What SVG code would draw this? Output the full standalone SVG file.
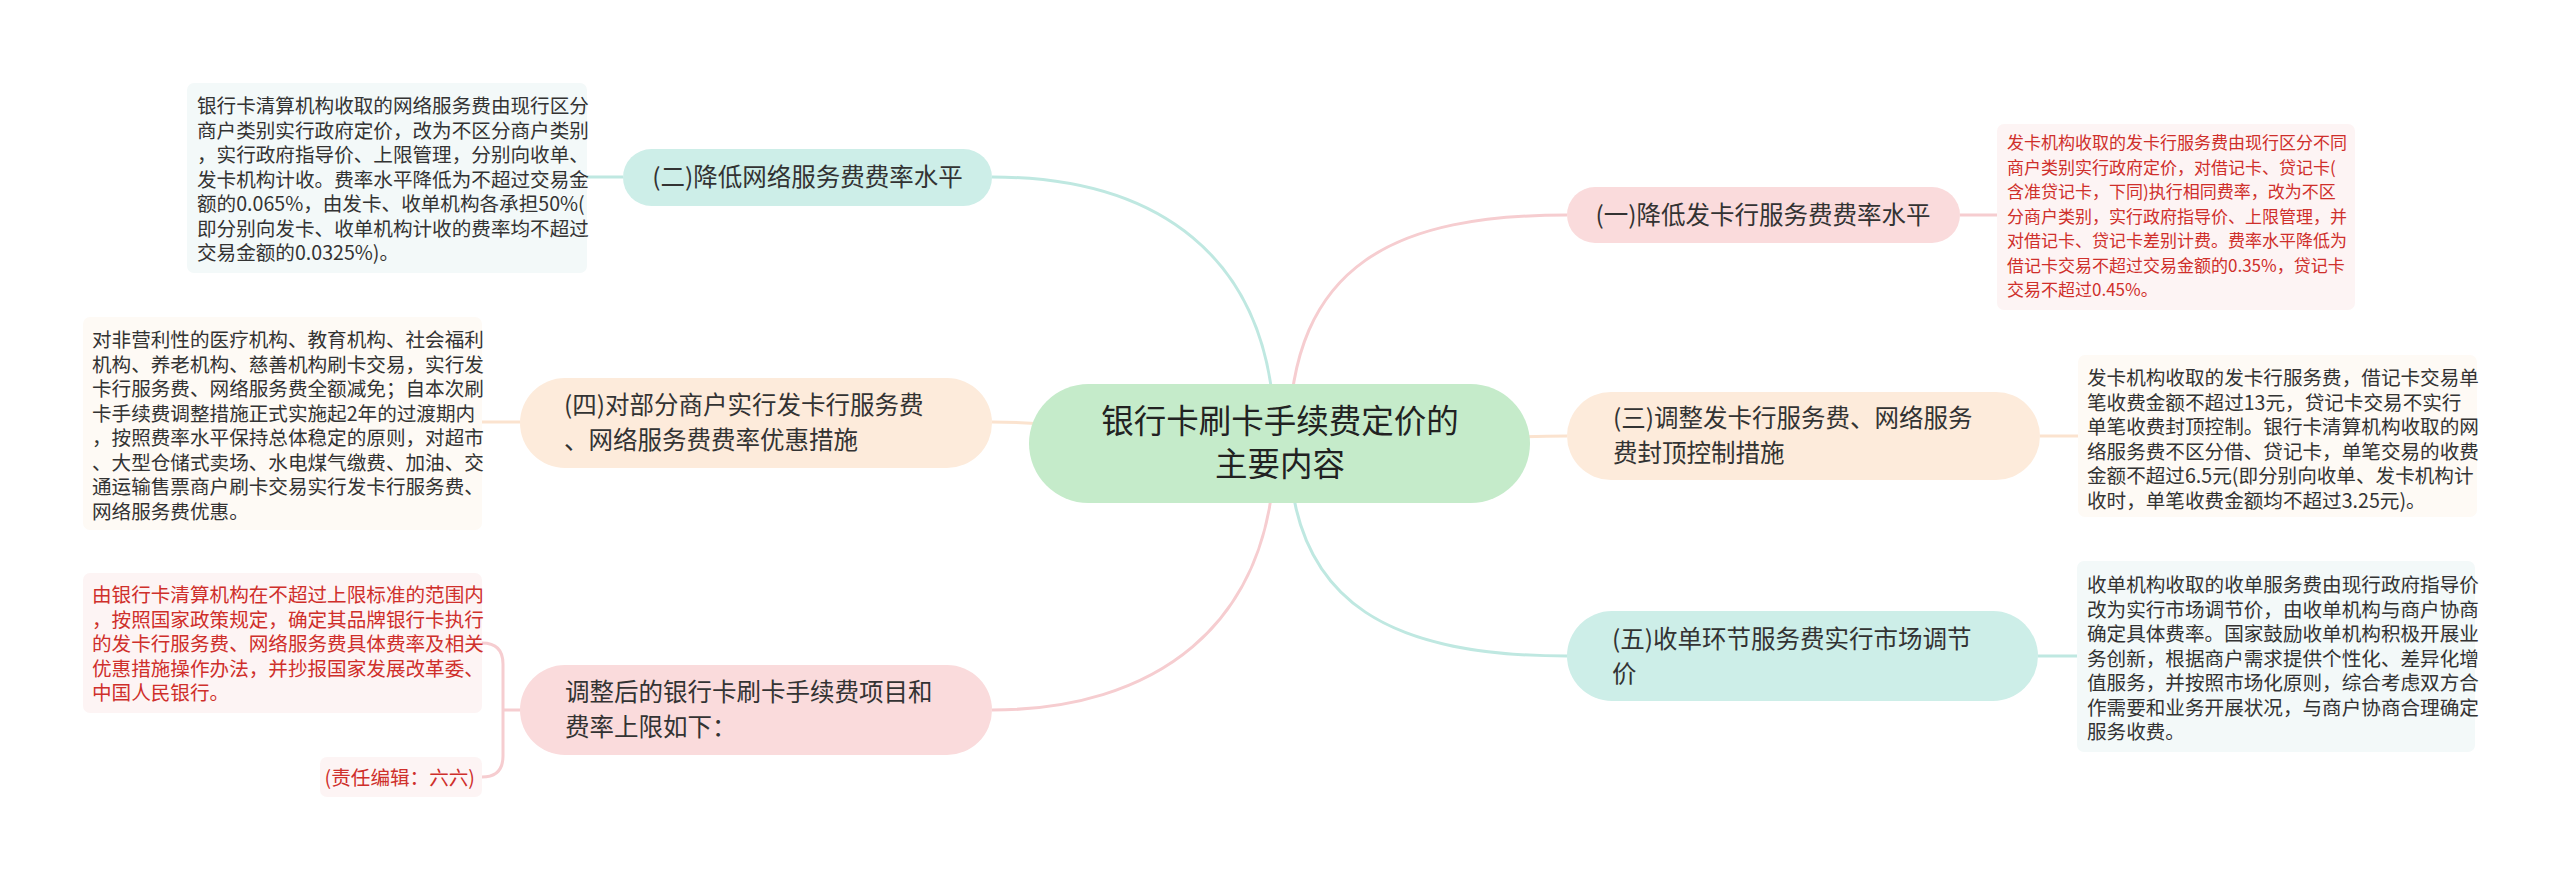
<svg xmlns="http://www.w3.org/2000/svg" width="2560" height="881" viewBox="0 0 2560 881">
<style>
text{font-family:"Noto Sans CJK SC","Noto Sans",sans-serif;}
.node{font-size:24.5px;fill:#333;}
.root{font-size:32.5px;fill:#222;}
.det{font-size:19.6px;fill:#333;}
.det-s{font-size:17px;}
.red{fill:#cf2f2b;}
.c-cyan{stroke:#bfe8e1;}
.c-pink{stroke:#f6cdd0;}
.c-peach{stroke:#fbe3cf;}
#connectors path{fill:none;stroke-width:3;}
</style>
<rect width="2560" height="881" fill="#ffffff"/>
<g id="connectors">
<path class="c-cyan" d="M1275,443 C1275,250 1150,177 992,177"/>
<path class="c-pink" d="M1289,443 C1289,260 1400,215 1567,215"/>
<path class="c-peach" d="M1280,443 C1120,443 1100,422 992,422"/>
<path class="c-peach" d="M1280,443 C1450,443 1480,436 1567,436"/>
<path class="c-pink" d="M1275,443 C1275,630 1150,710 992,710"/>
<path class="c-cyan" d="M1289,443 C1289,610 1400,656 1567,656"/>
<path class="c-cyan" d="M587,177 L623,177"/>
<path class="c-pink" d="M1960,215 L1997,215"/>
<path class="c-peach" d="M482,422 L520,422"/>
<path class="c-peach" d="M2040,436 L2078,436"/>
<path class="c-cyan" d="M2038,656 L2077,656"/>
<path class="c-pink" d="M482,643 Q503,643 503,664 L503,756 Q503,777 482,777 M503,710 L520,710"/>
</g>
<g id="root">
<rect x="1029" y="384" width="501" height="119" rx="59.5" fill="#c5ebca"/>
<text class="root" text-anchor="middle"><tspan x="1280" y="433">银行卡刷卡手续费定价的</tspan><tspan x="1280" y="476">主要内容</tspan></text>
</g>
<g id="n1">
<rect x="1567" y="187" width="393" height="56" rx="28" fill="#fadbdc"/>
<text class="node" text-anchor="middle" x="1763" y="224">(一)降低发卡行服务费费率水平</text>
</g>
<g id="n1d">
<rect x="1997" y="124" width="358" height="186" rx="7" fill="#fdf4f4"/>
<text class="det det-s red"><tspan x="2007" y="149">发卡机构收取的发卡行服务费由现行区分不同</tspan><tspan x="2007" y="173.5">商户类别实行政府定价，对借记卡、贷记卡(</tspan><tspan x="2007" y="198">含准贷记卡，下同)执行相同费率，改为不区</tspan><tspan x="2007" y="222.5">分商户类别，实行政府指导价、上限管理，并</tspan><tspan x="2007" y="247">对借记卡、贷记卡差别计费。费率水平降低为</tspan><tspan x="2007" y="271.5">借记卡交易不超过交易金额的0.35%，贷记卡</tspan><tspan x="2007" y="296">交易不超过0.45%。</tspan></text>
</g>
<g id="n2">
<rect x="623" y="149" width="369" height="57" rx="28.5" fill="#cdeee8"/>
<text class="node" text-anchor="middle" x="807.5" y="185.5">(二)降低网络服务费费率水平</text>
</g>
<g id="n2d">
<rect x="187" y="83" width="400" height="190" rx="7" fill="#f3f9f9"/>
<text class="det"><tspan x="197" y="113">银行卡清算机构收取的网络服务费由现行区分</tspan><tspan x="197" y="137.5">商户类别实行政府定价，改为不区分商户类别</tspan><tspan x="197" y="162">，实行政府指导价、上限管理，分别向收单、</tspan><tspan x="197" y="186.5">发卡机构计收。费率水平降低为不超过交易金</tspan><tspan x="197" y="211">额的0.065%，由发卡、收单机构各承担50%(</tspan><tspan x="197" y="235.5">即分别向发卡、收单机构计收的费率均不超过</tspan><tspan x="197" y="260">交易金额的0.0325%)。</tspan></text>
</g>
<g id="n3">
<rect x="1567" y="392" width="473" height="88" rx="44" fill="#fdebdb"/>
<text class="node"><tspan x="1613" y="427">(三)调整发卡行服务费、网络服务</tspan><tspan x="1613" y="462">费封顶控制措施</tspan></text>
</g>
<g id="n3d">
<rect x="2078" y="355" width="399" height="162" rx="7" fill="#fefaf5"/>
<text class="det"><tspan x="2087" y="385">发卡机构收取的发卡行服务费，借记卡交易单</tspan><tspan x="2087" y="409.5">笔收费金额不超过13元，贷记卡交易不实行</tspan><tspan x="2087" y="434">单笔收费封顶控制。银行卡清算机构收取的网</tspan><tspan x="2087" y="458.5">络服务费不区分借、贷记卡，单笔交易的收费</tspan><tspan x="2087" y="483">金额不超过6.5元(即分别向收单、发卡机构计</tspan><tspan x="2087" y="507.5">收时，单笔收费金额均不超过3.25元)。</tspan></text>
</g>
<g id="n4">
<rect x="520" y="378" width="472" height="90" rx="45" fill="#fdebdb"/>
<text class="node"><tspan x="564" y="414">(四)对部分商户实行发卡行服务费</tspan><tspan x="564" y="449">、网络服务费费率优惠措施</tspan></text>
</g>
<g id="n4d">
<rect x="83" y="317" width="399" height="213" rx="7" fill="#fefaf5"/>
<text class="det"><tspan x="92" y="347">对非营利性的医疗机构、教育机构、社会福利</tspan><tspan x="92" y="371.5">机构、养老机构、慈善机构刷卡交易，实行发</tspan><tspan x="92" y="396">卡行服务费、网络服务费全额减免；自本次刷</tspan><tspan x="92" y="420.5">卡手续费调整措施正式实施起2年的过渡期内</tspan><tspan x="92" y="445">，按照费率水平保持总体稳定的原则，对超市</tspan><tspan x="92" y="469.5">、大型仓储式卖场、水电煤气缴费、加油、交</tspan><tspan x="92" y="494">通运输售票商户刷卡交易实行发卡行服务费、</tspan><tspan x="92" y="518.5">网络服务费优惠。</tspan></text>
</g>
<g id="n5">
<rect x="1567" y="611" width="471" height="90" rx="45" fill="#cdeee8"/>
<text class="node"><tspan x="1612" y="648">(五)收单环节服务费实行市场调节</tspan><tspan x="1612" y="683">价</tspan></text>
</g>
<g id="n5d">
<rect x="2077" y="561" width="398" height="191" rx="7" fill="#f3f9f9"/>
<text class="det"><tspan x="2087" y="592">收单机构收取的收单服务费由现行政府指导价</tspan><tspan x="2087" y="616.5">改为实行市场调节价，由收单机构与商户协商</tspan><tspan x="2087" y="641">确定具体费率。国家鼓励收单机构积极开展业</tspan><tspan x="2087" y="665.5">务创新，根据商户需求提供个性化、差异化增</tspan><tspan x="2087" y="690">值服务，并按照市场化原则，综合考虑双方合</tspan><tspan x="2087" y="714.5">作需要和业务开展状况，与商户协商合理确定</tspan><tspan x="2087" y="739">服务收费。</tspan></text>
</g>
<g id="n6">
<rect x="520" y="665" width="472" height="90" rx="45" fill="#fadbdc"/>
<text class="node"><tspan x="565" y="701">调整后的银行卡刷卡手续费项目和</tspan><tspan x="565" y="736">费率上限如下：</tspan></text>
</g>
<g id="n6d">
<rect x="83" y="573" width="399" height="140" rx="7" fill="#fdf4f4"/>
<text class="det red"><tspan x="92" y="602">由银行卡清算机构在不超过上限标准的范围内</tspan><tspan x="92" y="626.5">，按照国家政策规定，确定其品牌银行卡执行</tspan><tspan x="92" y="651">的发卡行服务费、网络服务费具体费率及相关</tspan><tspan x="92" y="675.5">优惠措施操作办法，并抄报国家发展改革委、</tspan><tspan x="92" y="700">中国人民银行。</tspan></text>
</g>
<g id="n6e">
<rect x="320" y="757" width="162" height="40" rx="7" fill="#fdf4f4"/>
<text class="det red" text-anchor="end" x="475" y="785">(责任编辑：六六)</text>
</g>
</svg>
